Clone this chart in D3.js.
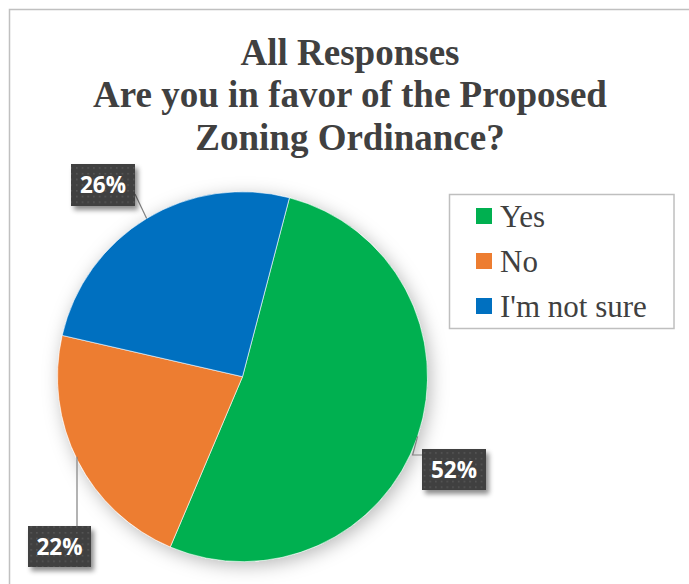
<!DOCTYPE html>
<html>
<head>
<meta charset="utf-8">
<script src="https://cdn.jsdelivr.net/npm/d3@7"></script>
<style>
  html, body { margin: 0; padding: 0; background: #fff; }
  svg { display: block; }
</style>
</head>
<body>
<svg id="chart" width="689" height="584"></svg>
<script>
// ---- data ----
const categories = ["Yes", "No", "I'm not sure"];
const values = [52.3, 22.2, 25.5];
const labels = ["52%", "22%", "26%"];
const colors = ["#00B050", "#ED7D31", "#0070C0"];
const titleLines = ["All Responses", "Are you in favor of the Proposed", "Zoning Ordinance?"];

// ---- layout ----
const W = 689, H = 584;
const cx = 242.5, cy = 376.7, R = 185;
const startDeg = 14.7;
// label box placement (layout only): box x,y,w,h and leader path builder
const labelLayout = [
  { box: [422, 449, 64, 41], leader: (a) => [a, [a[0] - 5, 455], [422, 455]] },
  { box: [28, 526, 63, 41], leader: (a) => [[77, a[1] - 4], [77, 526]] },
  { box: [71, 164, 64, 42], leader: (a) => [a, [135, 194]] }
];

const svg = d3.select("#chart");
const defs = svg.append("defs");

const pieShadow = defs.append("filter").attr("id", "pieShadow")
  .attr("x", "-20%").attr("y", "-20%").attr("width", "140%").attr("height", "140%");
pieShadow.append("feDropShadow").attr("dx", 3).attr("dy", 4).attr("stdDeviation", 9)
  .attr("flood-color", "#000").attr("flood-opacity", 0.28);

const boxShadow = defs.append("filter").attr("id", "boxShadow")
  .attr("x", "-30%").attr("y", "-30%").attr("width", "170%").attr("height", "170%");
boxShadow.append("feDropShadow").attr("dx", 3).attr("dy", 4).attr("stdDeviation", 2.5)
  .attr("flood-color", "#000").attr("flood-opacity", 0.45);

const pat = defs.append("pattern").attr("id", "dots").attr("patternUnits", "userSpaceOnUse")
  .attr("width", 5.7).attr("height", 5.7);
pat.append("rect").attr("width", 5.7).attr("height", 5.7).attr("fill", "#404040");
pat.append("rect").attr("x", 2).attr("y", 2).attr("width", 1.4).attr("height", 1.4).attr("fill", "#5c5c5c");

// background + chart border
svg.append("rect").attr("width", W).attr("height", H).attr("fill", "#fff");
svg.append("rect").attr("x", 9.5).attr("y", 9.5).attr("width", 720).attr("height", 620)
  .attr("fill", "none").attr("stroke", "#c0c0c0").attr("stroke-width", 1.5);

// title
const title = svg.append("text")
  .attr("text-anchor", "middle")
  .attr("font-family", "'Liberation Serif', 'Times New Roman', serif")
  .attr("font-weight", "bold").attr("font-size", 37).attr("fill", "#404040");
const baselines = [64.5, 107.3, 150];
titleLines.forEach((t, i) => {
  title.append("tspan").attr("x", 350).attr("y", baselines[i]).text(t);
});

// pie
const toRad = d => d * Math.PI / 180;
const pie = d3.pie().sort(null).value(d => d.v)
  .startAngle(toRad(startDeg)).endAngle(toRad(startDeg + 360));
const data = categories.map((c, i) => ({ c, v: values[i], color: colors[i], label: labels[i], lay: labelLayout[i] }));
const arcs = pie(data);
const arc = d3.arc().innerRadius(0).outerRadius(R);

const g = svg.append("g").attr("transform", `translate(${cx},${cy})`);
g.append("circle").attr("r", R).attr("fill", "#fff").attr("filter", "url(#pieShadow)");
g.selectAll("path.slice").data(arcs).join("path")
  .attr("class", "slice")
  .attr("d", arc)
  .attr("fill", d => d.data.color)
  .attr("stroke", "#ffffff").attr("stroke-width", 0.6);

// leader lines + labels
const line = d3.line();
arcs.forEach(d => {
  const mid = (d.startAngle + d.endAngle) / 2;
  const anchor = [cx + R * Math.sin(mid), cy - R * Math.cos(mid)];
  const pts = d.data.lay.leader(anchor);
  svg.append("path").attr("d", line(pts)).attr("fill", "none")
    .attr("stroke", "#808080").attr("stroke-width", 1.2);
});
arcs.forEach(d => {
  const [bx, by, bw, bh] = d.data.lay.box;
  const lg = svg.append("g");
  lg.append("rect").attr("x", bx).attr("y", by).attr("width", bw).attr("height", bh)
    .attr("fill", "#404040").attr("filter", "url(#boxShadow)");
  lg.append("rect").attr("x", bx).attr("y", by).attr("width", bw).attr("height", bh)
    .attr("fill", "url(#dots)");
  lg.append("text").attr("x", bx + bw / 2).attr("y", by + bh / 2 + 8)
    .attr("text-anchor", "middle")
    .attr("font-family", "'Open Sans', 'Noto Sans', sans-serif")
    .attr("font-weight", "bold").attr("font-size", 22.5).attr("fill", "#fff")
    .text(d.data.label);
});

// legend
svg.append("rect").attr("x", 449.5).attr("y", 194.5).attr("width", 224.5).attr("height", 134)
  .attr("fill", "#fff").attr("stroke", "#bfbfbf").attr("stroke-width", 1.5);
const leg = svg.append("g");
data.forEach((d, i) => {
  const base = 227 + i * 45;
  leg.append("rect").attr("x", 476).attr("y", base - 19).attr("width", 16).attr("height", 16)
    .attr("fill", d.color);
  leg.append("text").attr("x", 500).attr("y", base)
    .attr("font-family", "'Liberation Serif', 'Times New Roman', serif")
    .attr("font-size", 31).attr("fill", "#404040").text(d.c);
});
</script>
</body>
</html>
